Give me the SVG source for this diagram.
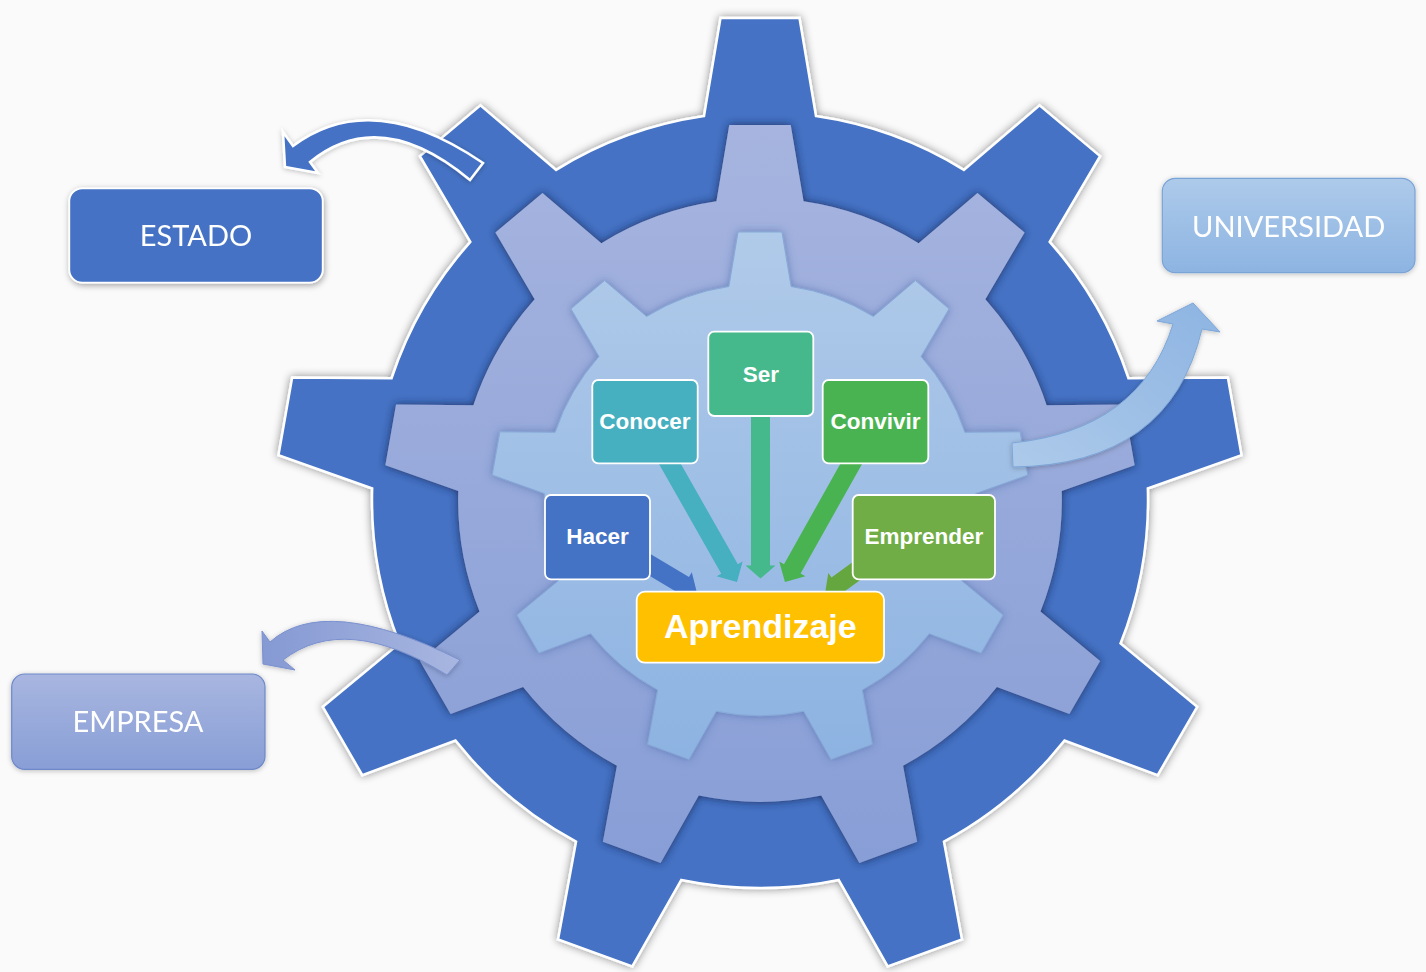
<svg xmlns="http://www.w3.org/2000/svg" xmlns:xlink="http://www.w3.org/1999/xlink" width="1426" height="972" viewBox="0 0 1426 972">
<style>
.big{font-family:Lato,"Open Sans","Liberation Sans",sans-serif;font-size:29px;fill:#fff;text-anchor:middle}
.lbl{font-family:"Liberation Sans",Arial,sans-serif;font-weight:bold;font-size:22.5px;fill:#fff;text-anchor:middle}
.box{stroke:#fff;stroke-width:1.8}
</style>
<defs>
<path id="gear" vector-effect="non-scaling-stroke" d="M -56,-383.94 L -39.5,-482 L 39.5,-482 L 56,-383.94 A 388 388 0 0 1 203.89,-330.12 L 279.56,-394.62 L 340.08,-343.84 L 289.69,-258.12 A 388 388 0 0 1 368.39,-121.82 L 467.82,-122.6 L 481.54,-44.8 L 387.83,-11.52 A 388 388 0 0 1 360.5,143.47 L 437.17,206.79 L 397.67,275.21 L 304.5,240.47 A 388 388 0 0 1 183.94,341.64 L 201.97,439.42 L 127.73,466.44 L 78.7,379.94 A 388 388 0 0 1 -78.7,379.94 L -127.73,466.44 L -201.97,439.42 L -183.94,341.64 A 388 388 0 0 1 -304.5,240.47 L -397.67,275.21 L -437.17,206.79 L -360.5,143.47 A 388 388 0 0 1 -387.83,-11.52 L -481.54,-44.8 L -467.82,-122.6 L -368.39,-121.82 A 388 388 0 0 1 -289.69,-258.12 L -340.08,-343.84 L -279.56,-394.62 L -203.89,-330.12 A 388 388 0 0 1 -56,-383.94 Z"/>
<linearGradient id="gMid" x1="0" y1="0" x2="0" y2="1"><stop offset="0" stop-color="#A6B4DF"/><stop offset="1" stop-color="#889ED6"/></linearGradient>
<linearGradient id="gIn" x1="0" y1="0" x2="0" y2="1"><stop offset="0" stop-color="#B0CAE9"/><stop offset="1" stop-color="#8DB3E2"/></linearGradient>
<linearGradient id="gUni" x1="0" y1="0" x2="0" y2="1"><stop offset="0" stop-color="#ADCAEA"/><stop offset="1" stop-color="#8DB4E2"/></linearGradient>
<linearGradient id="gEmp" x1="0" y1="0" x2="0" y2="1"><stop offset="0" stop-color="#A8B6E0"/><stop offset="1" stop-color="#889ED6"/></linearGradient>
<linearGradient id="gArrEmp" x1="0" y1="0" x2="1" y2="0"><stop offset="0" stop-color="#8599D3"/><stop offset="1" stop-color="#A8B6E0"/></linearGradient>
<linearGradient id="gArrUni" x1="0" y1="1" x2="1" y2="0"><stop offset="0" stop-color="#ADCAEA"/><stop offset="1" stop-color="#8DB4E2"/></linearGradient>
<filter id="shOut" x="-10%" y="-10%" width="120%" height="120%"><feDropShadow dx="0" dy="0" stdDeviation="4" flood-color="#000" flood-opacity="0.45"/></filter>
<filter id="shMid" x="-10%" y="-10%" width="120%" height="120%"><feDropShadow dx="0" dy="0" stdDeviation="4" flood-color="#14295A" flood-opacity="0.9"/></filter>
<filter id="shIn" x="-10%" y="-10%" width="120%" height="120%"><feDropShadow dx="0" dy="0" stdDeviation="4" flood-color="#2F5597" flood-opacity="0.5"/></filter>
<filter id="shBox" x="-10%" y="-20%" width="120%" height="140%"><feDropShadow dx="1" dy="2" stdDeviation="3" flood-color="#000" flood-opacity="0.35"/></filter>
<filter id="shSoft" x="-10%" y="-20%" width="120%" height="140%"><feDropShadow dx="0" dy="1" stdDeviation="2.5" flood-color="#000" flood-opacity="0.25"/></filter>
</defs>
<rect width="1426" height="972" fill="#FAFAFA"/>
<g id="gears">
<g filter="url(#shOut)"><use xlink:href="#gear" href="#gear" fill="#4472C4" stroke="#fff" stroke-width="2.5" transform="translate(760 500)"/></g>
<g filter="url(#shMid)"><use xlink:href="#gear" href="#gear" fill="url(#gMid)" transform="translate(760 500) scale(0.778)"/></g>
<g filter="url(#shIn)"><use xlink:href="#gear" href="#gear" fill="url(#gIn)" stroke="#86A9D8" stroke-width="1" transform="translate(760 500) scale(0.556)"/></g>
</g>
<g id="connectors">
<path id="arrow-estado" filter="url(#shSoft)" d="M483,163 Q372,87 293,146 L283,132 L285,167 L318,173 L310,162 Q380,105 470,180 Z" fill="#4472C4" stroke="#fff" stroke-width="2.5" stroke-linejoin="miter"/>
<path id="arrow-empresa" filter="url(#shSoft)" d="M460,660 Q325,593 270,642 L262,631 L263,664 L295,670 L283,660 Q345,612 447,675 Z" fill="url(#gArrEmp)" stroke="#7A90CF" stroke-width="1"/>
<path id="arrow-universidad" filter="url(#shSoft)" d="M1012,443 Q1140,430 1173,324 L1157,321 L1193,303 L1220,332 L1202,329 Q1170,465 1013,467 Z" fill="url(#gArrUni)" stroke="#7DA6D8" stroke-width="1"/>
<path id="arrow-ser" transform="translate(760.5 400) rotate(90)" d="M0,-9.5 L165.5,-9.5 L165.5,-15 L178.5,0 L165.5,15 L165.5,9.5 L0,9.5 Z" fill="#45B98C"/>
<path id="arrow-conocer" transform="translate(662 450) rotate(60.4)" d="M0,-9.5 L136.8,-9.5 L136.8,-15 L151.8,0 L136.8,15 L136.8,9.5 L0,9.5 Z" fill="#46AFC0"/>
<path id="arrow-convivir" transform="translate(859 450) rotate(119.3)" d="M0,-9.5 L136.3,-9.5 L136.3,-15 L151.3,0 L136.3,15 L136.3,9.5 L0,9.5 Z" fill="#4AB351"/>
<path id="arrow-hacer" transform="translate(630 553) rotate(30.8)" d="M0,-9.5 L63,-9.5 L63,-15 L78,0 L63,15 L63,9.5 L0,9.5 Z" fill="#4472C4"/>
<path id="arrow-emprender" transform="translate(881.6 552.8) rotate(144)" d="M0,-9.5 L55,-9.5 L55,-15 L70,0 L55,15 L55,9.5 L0,9.5 Z" fill="#66A63F"/>
</g>
<g id="estado" filter="url(#shBox)"><rect class="box" x="69.3" y="188.3" width="253.4" height="94.4" rx="13" fill="#4472C4" stroke-width="2.5"/><text class="big" x="196" y="246">ESTADO</text></g>
<g id="universidad" filter="url(#shSoft)"><rect x="1162.3" y="178.3" width="252.7" height="94.4" rx="13" fill="url(#gUni)" stroke="#7AA3D6" stroke-width="1.2"/><text class="big" x="1288.7" y="236.7">UNIVERSIDAD</text></g>
<g id="empresa" filter="url(#shSoft)"><rect x="11.7" y="674" width="253.3" height="95.3" rx="13" fill="url(#gEmp)" stroke="#6E88C9" stroke-width="1.2"/><text class="big" x="138" y="732.3">EMPRESA</text></g>
<g id="ser"><rect class="box" x="708.3" y="331.7" width="105" height="84.3" rx="6" fill="#45B98C"/><text class="lbl" x="760.8" y="381.7">Ser</text></g>
<g id="conocer"><rect class="box" x="592.3" y="380" width="105.4" height="83.3" rx="6" fill="#46AFC0"/><text class="lbl" x="645" y="429.3">Conocer</text></g>
<g id="convivir"><rect class="box" x="822.7" y="380" width="105.6" height="83.3" rx="6" fill="#4AB351"/><text class="lbl" x="875.5" y="429.3">Convivir</text></g>
<g id="hacer"><rect class="box" x="545" y="495" width="105" height="84.3" rx="6" fill="#4472C4"/><text class="lbl" x="597.5" y="544">Hacer</text></g>
<g id="emprender"><rect class="box" x="852.7" y="495" width="142.3" height="84.3" rx="6" fill="#70AD47"/><text class="lbl" x="923.8" y="544">Emprender</text></g>
<g id="aprendizaje"><rect class="box" x="636.7" y="591.7" width="247.3" height="71" rx="8" fill="#FFC000"/><text class="lbl" x="760.3" y="637.5" style="font-size:34px">Aprendizaje</text></g>
</svg>
